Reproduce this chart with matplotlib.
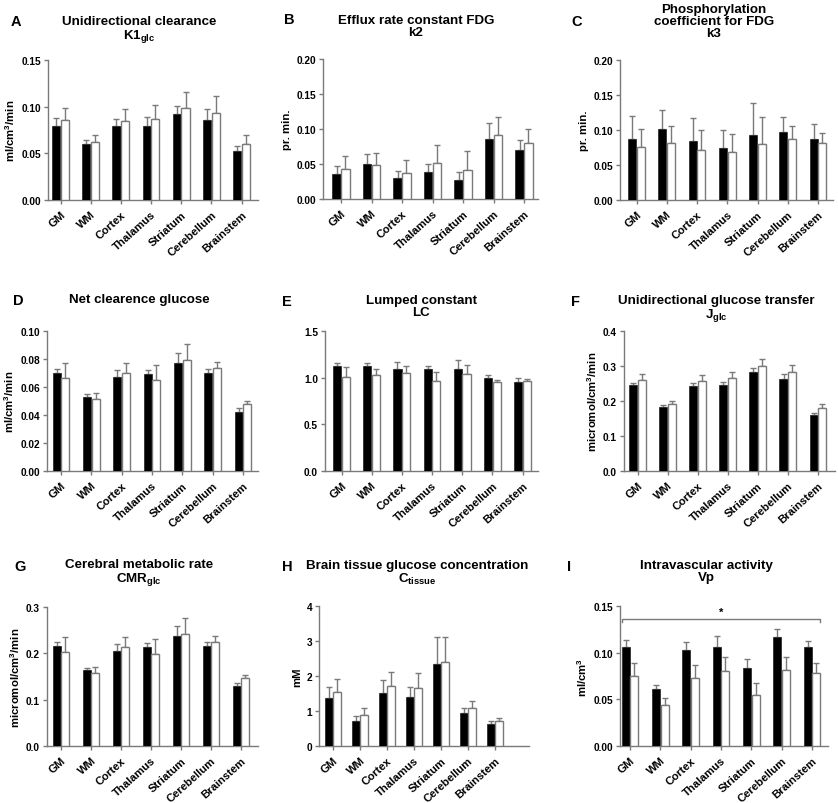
import matplotlib
matplotlib.use("Agg")
import matplotlib.pyplot as plt
import numpy as np
from matplotlib.ticker import FormatStrFormatter

plt.rcParams['font.family'] = ['Liberation Sans', 'DejaVu Sans']
plt.rcParams['font.weight'] = 'bold'
plt.rcParams['mathtext.fontset'] = 'custom'
plt.rcParams['mathtext.rm'] = 'Liberation Sans:bold'
plt.rcParams['mathtext.it'] = 'Liberation Sans:bold'
plt.rcParams['mathtext.bf'] = 'Liberation Sans:bold'
plt.rcParams['mathtext.default'] = 'rm'

regions = ["GM", "WM", "Cortex", "Thalamus", "Striatum", "Cerebellum", "Brainstem"]

# A  K1glc
k1_g1 = [0.0794, 0.0595, 0.0790, 0.0798, 0.0923, 0.0862, 0.0524]
k1_g1_err = [0.0082, 0.0050, 0.0076, 0.0089, 0.0085, 0.0114, 0.0053]
k1_g2 = [0.0855, 0.0620, 0.0848, 0.0866, 0.0990, 0.0933, 0.0595]
k1_g2_err = [0.0135, 0.0080, 0.0128, 0.0149, 0.0168, 0.0177, 0.0105]
# B  k2
k2_g1 = [0.0362, 0.0505, 0.0305, 0.0386, 0.0270, 0.0860, 0.0700]
k2_g1_err = [0.0108, 0.0135, 0.0095, 0.0119, 0.0110, 0.0226, 0.0150]
k2_g2 = [0.0430, 0.0490, 0.0376, 0.0514, 0.0420, 0.0920, 0.0800]
k2_g2_err = [0.0190, 0.0170, 0.0184, 0.0253, 0.0270, 0.0250, 0.0200]
# C  k3
k3_g1 = [0.087, 0.101, 0.084, 0.074, 0.093, 0.097, 0.087]
k3_g1_err = [0.0327, 0.0270, 0.0330, 0.0253, 0.0450, 0.0220, 0.0210]
k3_g2 = [0.0755, 0.0817, 0.0717, 0.0690, 0.0800, 0.0865, 0.0817]
k3_g2_err = [0.0262, 0.0243, 0.0276, 0.0246, 0.0390, 0.0195, 0.0143]
# D  net clearance
kn_g1 = [0.0701, 0.0526, 0.0668, 0.0692, 0.0770, 0.0701, 0.0424]
kn_g1_err = [0.0031, 0.0021, 0.0052, 0.0028, 0.0076, 0.0031, 0.0024]
kn_g2 = [0.0666, 0.0514, 0.0699, 0.0649, 0.0794, 0.0737, 0.0476]
kn_g2_err = [0.0109, 0.0045, 0.0074, 0.0105, 0.0114, 0.0045, 0.0026]
# E  LC
lc_g1 = [1.120, 1.130, 1.088, 1.095, 1.091, 0.995, 0.956]
lc_g1_err = [0.035, 0.022, 0.082, 0.032, 0.099, 0.032, 0.043]
lc_g2 = [1.006, 1.024, 1.045, 0.960, 1.038, 0.949, 0.960]
lc_g2_err = [0.103, 0.064, 0.082, 0.103, 0.103, 0.021, 0.025]
# F  Jglc
j_g1 = [0.2445, 0.1840, 0.2427, 0.2464, 0.2834, 0.2635, 0.1610]
j_g1_err = [0.0075, 0.0046, 0.0083, 0.0086, 0.0106, 0.0133, 0.0050]
j_g2 = [0.2607, 0.1905, 0.2578, 0.2654, 0.3005, 0.2815, 0.1810]
j_g2_err = [0.0153, 0.0085, 0.0152, 0.0171, 0.0205, 0.0209, 0.0114]
# G  CMRglc
cmr_g1 = [0.2160, 0.1630, 0.2054, 0.2140, 0.2370, 0.2160, 0.1300]
cmr_g1_err = [0.0088, 0.0060, 0.0156, 0.0086, 0.0230, 0.0095, 0.0067]
cmr_g2 = [0.2033, 0.1580, 0.2133, 0.1990, 0.2427, 0.2248, 0.1460]
cmr_g2_err = [0.0327, 0.0130, 0.0227, 0.0315, 0.0333, 0.0136, 0.0070]
# H  Ctissue
ct_g1 = [1.360, 0.724, 1.505, 1.400, 2.333, 0.952, 0.619]
ct_g1_err = [0.335, 0.133, 0.371, 0.276, 0.772, 0.124, 0.095]
ct_g2 = [1.533, 0.895, 1.705, 1.657, 2.400, 1.095, 0.705]
ct_g2_err = [0.372, 0.191, 0.419, 0.429, 0.705, 0.200, 0.085]
# I  Vp
vp_g1 = [0.1056, 0.0611, 0.1024, 0.1056, 0.0835, 0.1170, 0.1066]
vp_g1_err = [0.0082, 0.0047, 0.0086, 0.0124, 0.0100, 0.0080, 0.0061]
vp_g2 = [0.0754, 0.0437, 0.0732, 0.0800, 0.0551, 0.0814, 0.0779]
vp_g2_err = [0.0138, 0.0078, 0.0139, 0.0156, 0.0128, 0.0135, 0.0106]

W, H = 838, 804
fig = plt.figure(figsize=(W / 100, H / 100), dpi=100)

GRAY = '#7a7a7a'

panels = [
    dict(letter='A', title="Unidirectional clearance\nK1$_{glc}$", ylabel="ml/cm$^{3}$/min",
         data=(k1_g1, k1_g1_err, k1_g2, k1_g2_err), ylim=0.15, yticks=[0, 0.05, 0.10, 0.15], fmt='%.2f',
         box=(48, 61, 258, 201), cen=(60.5, 241.5), lxy=(11, 22), tx=139, ty=16),
    dict(letter='B', title="Efflux rate constant FDG\nk2", ylabel="pr. min.",
         data=(k2_g1, k2_g1_err, k2_g2, k2_g2_err), ylim=0.20, yticks=[0, 0.05, 0.10, 0.15, 0.20], fmt='%.2f',
         box=(323, 60, 538, 200), cen=(341, 524), lxy=(284, 20), tx=416, ty=15),
    dict(letter='C', title="Phosphorylation\ncoefficient for FDG\nk3", ylabel="pr. min.",
         data=(k3_g1, k3_g1_err, k3_g2, k3_g2_err), ylim=0.20, yticks=[0, 0.05, 0.10, 0.15, 0.20], fmt='%.2f',
         box=(620, 61, 833, 201), cen=(636.5, 818), lxy=(571, 22), tx=714, ty=4),
    dict(letter='D', title="Net clearence glucose", ylabel="ml/cm$^{3}$/min",
         data=(kn_g1, kn_g1_err, kn_g2, kn_g2_err), ylim=0.10, yticks=[0, 0.02, 0.04, 0.06, 0.08, 0.10], fmt='%.2f',
         box=(47, 332, 258, 472), cen=(61, 243), lxy=(13, 301), tx=139, ty=294),
    dict(letter='E', title="Lumped constant\nLC", ylabel="",
         data=(lc_g1, lc_g1_err, lc_g2, lc_g2_err), ylim=1.5, yticks=[0, 0.5, 1.0, 1.5], fmt='%.1f',
         box=(325, 332, 538, 472), cen=(341.5, 522.5), lxy=(282, 302), tx=421, ty=295),
    dict(letter='F', title="Unidirectional glucose transfer\nJ$_{glc}$", ylabel="micromol/cm$^{3}$/min",
         data=(j_g1, j_g1_err, j_g2, j_g2_err), ylim=0.4, yticks=[0, 0.1, 0.2, 0.3, 0.4], fmt='%.1f',
         box=(624, 332, 835, 472), cen=(637.5, 818), lxy=(571, 302), tx=716, ty=295),
    dict(letter='G', title="Cerebral metabolic rate\nCMR$_{glc}$", ylabel="micromol/cm$^{3}$/min",
         data=(cmr_g1, cmr_g1_err, cmr_g2, cmr_g2_err), ylim=0.3, yticks=[0, 0.1, 0.2, 0.3], fmt='%.1f',
         box=(47, 608, 258, 747), cen=(61, 241), lxy=(14, 567), tx=139, ty=559),
    dict(letter='H', title="Brain tissue glucose concentration\nC$_{tissue}$", ylabel="mM",
         data=(ct_g1, ct_g1_err, ct_g2, ct_g2_err), ylim=4, yticks=[0, 1, 2, 3, 4], fmt='%d',
         box=(319, 607, 529, 747), cen=(333, 495), lxy=(282, 567), tx=417, ty=560),
    dict(letter='I', title="Intravascular activity\nVp", ylabel="ml/cm$^{3}$",
         data=(vp_g1, vp_g1_err, vp_g2, vp_g2_err), ylim=0.15, yticks=[0, 0.05, 0.10, 0.15], fmt='%.2f',
         box=(620, 607, 828, 747), cen=(630, 812), lxy=(567, 567), tx=706, ty=560),
]

x = np.arange(len(regions))
bw = 0.27
off = 0.145

for p in panels:
    l, t, r, b = p['box']
    ax = fig.add_axes([l / W, 1 - b / H, (r - l) / W, (b - t) / H])
    c0, c1 = p['cen']
    sp = (c1 - c0) / (len(regions) - 1)
    ax.set_xlim((l - c0) / sp, (r - c0) / sp)
    ax.set_ylim(0, p['ylim'])
    g1, e1, g2, e2 = p['data']
    ax.bar(x - off, g1, bw, color='black', edgecolor='#303030', linewidth=0.6, zorder=3)
    ax.bar(x + off, g2, bw, color='white', edgecolor=GRAY, linewidth=1.0, zorder=3)
    ax.errorbar(x - off, g1, yerr=[np.zeros(len(g1)), e1], fmt='none', ecolor=GRAY,
                elinewidth=1.0, capsize=2, capthick=1.0, zorder=2)
    ax.errorbar(x + off, g2, yerr=[np.zeros(len(g2)), e2], fmt='none', ecolor=GRAY,
                elinewidth=1.0, capsize=2, capthick=1.0, zorder=2)
    for s in ['top', 'right']:
        ax.spines[s].set_visible(False)
    for s in ['left', 'bottom']:
        ax.spines[s].set_color(GRAY)
        ax.spines[s].set_linewidth(1.0)
    ax.set_yticks(p['yticks'])
    ax.yaxis.set_major_formatter(FormatStrFormatter(p['fmt']))
    ax.set_xticks(x)
    ax.set_xticklabels(regions, rotation=42, ha='right', rotation_mode='anchor',
                       fontsize=8.1, fontweight='bold')
    ax.tick_params(axis='both', colors=GRAY, length=3, width=1.0, labelcolor='black', pad=2)
    ax.tick_params(axis='x', pad=3.5)
    ax.tick_params(axis='y', labelsize=7.3)
    for lab in ax.get_yticklabels():
        lab.set_fontweight('bold')
    if p['ylabel']:
        ax.set_ylabel(p['ylabel'], fontsize=8.2, fontweight='bold', labelpad=3)
    fig.text(p['lxy'][0] / W, 1 - p['lxy'][1] / H, p['letter'], fontsize=10.5, fontweight='bold',
             ha='left', va='center')
    fig.text(p['tx'] / W, 1 - p['ty'] / H, p['title'], fontsize=9.6, fontweight='bold',
             ha='center', va='top', linespacing=1.0, multialignment='center')
    if p['letter'] == 'I':
        xl, xr = x[0] - off - bw / 2, x[-1] + off + bw / 2
        yb, ytick = 0.1358, 0.1330
        ax.plot([xl, xl, xr, xr], [ytick, yb, yb, ytick], color=GRAY, lw=1.0, clip_on=False)
        ax.text((xl + xr) / 2, 0.1385, '*', ha='center', va='bottom', fontsize=8, fontweight='bold')

fig.savefig('out.png', dpi=100)
